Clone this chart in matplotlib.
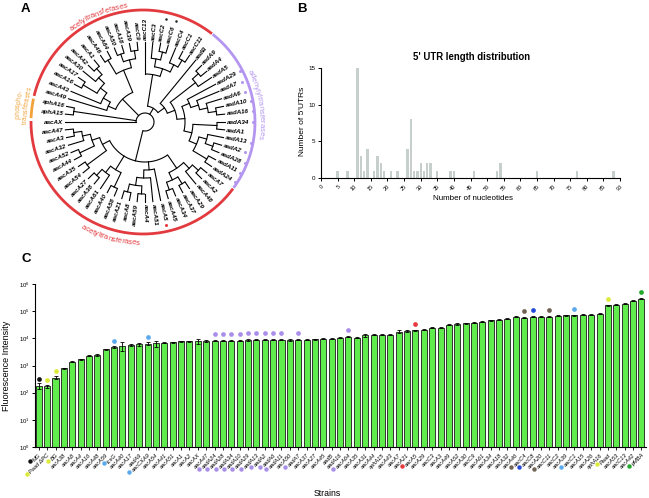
import numpy as np
import matplotlib
matplotlib.use("Agg")
import matplotlib.pyplot as plt
from matplotlib.lines import Line2D
from matplotlib.textpath import TextToPath
from matplotlib.font_manager import FontProperties

plt.rcParams['font.family'] = ['Liberation Sans', 'DejaVu Sans']

# ---------------- data ----------------
# A: tree of resistance genes (leaf order runs clockwise from aacAX at 9 o'clock)
tree = [
    "aacAX",
    ["aphA15", "aphA16"],
    [["aacA49", ["aacA43", [["aacA16", "aacA17"], ["aacA30", ["aacA42", "aacA1"]]]]],
     [["aacA46", "aacA64"], [["aacA50", "aacA18"], ["aacA39", "aacC9"]]]],
    [["aacC13", [["aacC3", ["aacC2", "aacC6"]], ["aacC4", ["aacC1", "aacC11"]]]],
     ["aadB", [[["aadA9", "aadA4"], "aadA5"],
               [["aadA29", ["aadA7", ["aadA6", ["aadA10", "aadA16"]]]],
                [["aadA34", "aadA1"], [["aadA13", ["aadA2", "aadA28"]], ["aadA11", "aadA24"]]]]]]],
    [[[["aacA7", "aacA2"], "aacA48"], [["aacA29", "aacA37"], ["aacA34", "aacA45"]]],
     ["aacA5", ["aacA51", [["aacA4", "aacA59"], ["aacA8", "aacA21"]]]],
     [["aacA58", "aacA40"], ["aacA61", ["aacA38", "aacA27"]]],
     [["aacA54", "aacA35"], [["aacA44", "aacA52"], ["aacA32", ["aacA3", "aacA47"]]]]],
]
purple_leaves = ["aadA29", "aadA7", "aadA6", "aadA10", "aadA16", "aadA34",
                 "aadA13", "aadA2", "aadA28", "aadA11", "aadA24"]
black_leaves = ["aacC2", "aacC6"]
red_leaves = ["aacA5"]

# B: 5' UTR length histogram
utr_len = [5, 8, 11, 12, 13, 14, 16, 17, 18, 19, 21, 23, 26, 27, 28, 29, 30,
           31, 32, 33, 35, 39, 40, 46, 53, 54, 65, 77, 88]
utr_count = [1, 1, 15, 3, 1, 4, 1, 3, 2, 1, 1, 1, 4, 8, 1, 1, 2,
             1, 2, 2, 1, 1, 1, 1, 1, 2, 1, 1, 1]

# C: fluorescence of each strain
strains = ["MG", "Paad ΔPC", "BG", "aacA38", "aacA8", "aacA4", "aacA16", "aacA48",
           "aacA59", "tcsG", "aacA40", "aacA17", "aadA9", "aacCXA9", "aacA54",
           "aacA41", "aacA51", "aacA1", "aacA2", "aacAX", "aacA47", "aadA24",
           "aadA28", "aadA34", "aadA10", "aadA29", "aadA13", "aadA2", "aadA6",
           "aadA11", "aacA50", "aadA7", "aacA37", "aacA27", "aacA45", "aadB",
           "aadA16", "aacA64", "aacA35", "aacA31", "aacA44", "aphA15", "aacA43",
           "aacA7", "aacA21", "aacA5", "aacA29", "aacC3", "aacA3", "aacA49",
           "aacA52", "aacA30", "aacC9", "aacA61", "aacA34", "aacA18", "aacA32",
           "aacA46", "aacC4", "aacC8", "aacA20", "aacC11", "aacC2", "aacA39",
           "aacC1", "aacA15", "aacA26", "aphA16", "Paad", "aacA53", "aacC13",
           "aacA42", "pMBA"]
fluor = [180, 170, 360, 800, 1400, 1700, 2300, 2450, 4000, 4750,
         5250, 5600, 6100, 6400, 6500, 7000, 7200, 7900, 7800, 7800,
         8000, 8200, 8100, 8300, 8300, 8800, 8800, 8800, 8800, 8800,
         8800, 8900, 8900, 9100, 9800, 9800, 10400, 11300, 10400, 13000,
         13400, 13800, 13400, 17400, 18300, 20000, 21000, 24300, 25000, 32000,
         34000, 36000, 38000, 40500, 46500, 48000, 53500, 62000, 58000, 62000,
         63500, 63500, 69000, 70000, 70000, 75000, 75000, 81000, 162000, 174000,
         190000, 240000, 283000]
err_frac = [0.25, 0.15, 0.1, 0.05, 0.05, 0.05, 0.05, 0.05, 0.05, 0.06,
            0.35, 0.06, 0.12, 0.12, 0.25, 0.05, 0.05, 0.05, 0.05, 0.2,
            0.05, 0.05, 0.05, 0.05, 0.05, 0.06, 0.05, 0.05, 0.05, 0.05,
            0.08, 0.05, 0.05, 0.05, 0.05, 0.05, 0.05, 0.05, 0.05, 0.12,
            0.05, 0.05, 0.05, 0.12, 0.1, 0.05, 0.05, 0.05, 0.05, 0.06,
            0.1, 0.05, 0.05, 0.05, 0.05, 0.05, 0.05, 0.05, 0.05, 0.05,
            0.05, 0.05, 0.05, 0.05, 0.05, 0.05, 0.05, 0.05, 0.05, 0.05,
            0.05, 0.05, 0.05]
dot_idx = [0, 1, 2, 9, 13, 21, 22, 23, 24, 25, 26, 27, 28, 29, 31, 37, 45,
           58, 59, 61, 64, 68, 72]
dot_col = ["black", "yellow", "yellow", "lblue", "lblue"] + ["purple"] * 11 + \
          ["red", "brown", "blue", "brown", "lblue", "yellow", "green"]
palette = {"black": "#111111", "yellow": "#dcea3a", "lblue": "#5aa9ec",
           "purple": "#a98ee9", "red": "#e8373f", "brown": "#6f6253",
           "blue": "#2449d8", "green": "#23a82a"}

RED = "#e23a3e"
PURPLE = "#b496f0"
ORANGE = "#f2a23a"

W, H = 649, 498
fig = plt.figure(figsize=(W / 100, H / 100), dpi=100)
ttp = TextToPath()


def px_axes(x0, y0, x1, y1):
    return fig.add_axes([x0 / W, 1 - y1 / H, (x1 - x0) / W, (y1 - y0) / H])


def text_px(s, fp):
    if not s:
        return 0.0
    w, h, d = ttp.get_text_width_height_descent(s, fp, ismath=False)
    return w * 100 / 72


def arc_text(ax, s, cx, cy, r, mid, fp, color, clockwise=True):
    cum = [text_px(s[:k], fp) for k in range(len(s) + 1)]
    total = cum[-1]
    for k, ch in enumerate(s):
        c = (cum[k] + cum[k + 1]) / 2 - total / 2
        dth = np.degrees(c / r)
        if clockwise:
            a = mid - dth
            rot = a - 90
        else:
            a = mid + dth
            rot = a + 90
        x = cx + r * np.cos(np.radians(a))
        y = cy - r * np.sin(np.radians(a))
        ax.text(x, y, ch, rotation=rot, ha='center', va='baseline',
                rotation_mode='anchor', fontproperties=fp, color=color)


# ---------------- A: circular tree ----------------
ax_a = px_axes(0, 0, 300, 250)
ax_a.set_xlim(0, 300)
ax_a.set_ylim(250, 0)
ax_a.axis('off')

TCX, TCY = 145, 122
R_TIP, STEP, R_ROOT = 80, 8, 9

leaves = []


def collect(node):
    if isinstance(node, str):
        leaves.append(node)
    else:
        for c in node:
            collect(c)


collect(tree)
n_leaves = len(leaves)
leaf_ang = {nm: 180 - i * 360 / n_leaves for i, nm in enumerate(leaves)}


def pol(r, a):
    return TCX + r * np.cos(np.radians(a)), TCY - r * np.sin(np.radians(a))


def draw_node(node, is_root=False):
    if isinstance(node, str):
        return leaf_ang[node], R_TIP, 0
    kids = [draw_node(c) for c in node]
    h = max(k[2] for k in kids) + 1
    r = R_ROOT if is_root else R_TIP - h * STEP
    a0, a1 = kids[-1][0], kids[0][0]
    aa = np.linspace(a0, a1, 60)
    xs, ys = pol(r, aa)
    ax_a.plot(xs, ys, color='black', lw=0.8, solid_capstyle='butt')
    for ka, kr, kh in kids:
        x0, y0 = pol(r, ka)
        x1, y1 = pol(kr, ka)
        ax_a.plot([x0, x1], [y0, y1], color='black', lw=0.8)
    return (a0 + a1) / 2, r, h


draw_node(tree, is_root=True)

leaf_fp = FontProperties(family='Liberation Sans', size=4.5, weight='bold', style='italic')
for nm in leaves:
    a = leaf_ang[nm]
    x, y = pol(R_TIP + 2, a)
    if np.cos(np.radians(a)) >= -1e-9:
        ax_a.text(x, y, nm, rotation=a, ha='left', va='center', rotation_mode='anchor',
                  fontproperties=leaf_fp)
    else:
        ax_a.text(x, y, nm, rotation=a + 180, ha='right', va='center',
                  rotation_mode='anchor', fontproperties=leaf_fp)
    wl = text_px(nm, leaf_fp)
    if nm in purple_leaves:
        ax_a.plot(*pol(R_TIP + 6 + wl, a), 'o', ms=2.2, color=PURPLE, mec='none')
    if nm in red_leaves:
        ax_a.plot(*pol(R_TIP + 7 + wl, a), 'o', ms=2.2, color=RED, mec='none')
    if nm in black_leaves:
        ax_a.plot(*pol(R_TIP + 7 + wl, a), 'o', ms=1.8, color='#222222', mec='none')

# coloured class arcs
ACX, ACY, AR = 143, 122, 112
for a0, a1, col in [(52, 166.5, RED), (168, 178, ORANGE), (179.5, 323.5, RED), (-36, 51.5, PURPLE)]:
    aa = np.radians(np.linspace(a0, a1, 200))
    ax_a.plot(ACX + AR * np.cos(aa), ACY - AR * np.sin(aa), color=col, lw=2.0,
              solid_capstyle='butt')

lab_fp = FontProperties(family='Liberation Sans', size=5.5)
arc_text(ax_a, "acetyltransferases", ACX, ACY, AR + 3.5, 113, lab_fp, RED, clockwise=True)
arc_text(ax_a, "acetyltransferases", ACX, ACY, AR + 11, 254, lab_fp, RED, clockwise=False)
arc_text(ax_a, "adenylyltransferases", ACX, ACY, AR + 4.5, 9, lab_fp, PURPLE, clockwise=True)
small_fp = FontProperties(family='Liberation Sans', size=4.8)
arc_text(ax_a, "phospho-", ACX, ACY, AR + 12, 172, small_fp, ORANGE, clockwise=True)
arc_text(ax_a, "transferases", ACX, ACY, AR + 4, 172, small_fp, ORANGE, clockwise=True)

# ---------------- B: UTR histogram ----------------
ax_b = px_axes(321, 68, 620, 178)
ax_b.bar(utr_len, utr_count, width=0.7, color='#c6cfcb', edgecolor='none')
ax_b.set_xlim(0, 90)
ax_b.set_ylim(0, 15)
ax_b.set_xticks(np.arange(0, 91, 5))
ax_b.set_xticklabels([str(v) for v in range(0, 91, 5)], rotation=45, ha='right',
                     rotation_mode='anchor', fontsize=4)
ax_b.set_yticks([0, 5, 10, 15])
ax_b.tick_params(axis='y', labelsize=4.5, length=2.5, width=0.7, pad=1.5)
ax_b.tick_params(axis='x', length=2.5, width=0.7, pad=1.5)
for s in ['top', 'right']:
    ax_b.spines[s].set_visible(False)
for s in ['left', 'bottom']:
    ax_b.spines[s].set_linewidth(0.8)
fig.text(472 / W, 1 - 57 / H, "5' UTR length distribution", ha='center', va='center',
         fontsize=6.9, fontweight='bold')
fig.text(473 / W, 1 - 198 / H, "Number of nucleotides", ha='center', va='center', fontsize=5.8)
fig.text(303 / W, 1 - 121 / H, "Number of 5'UTRs", ha='center', va='center',
         rotation=90, fontsize=6)

# ---------------- C: fluorescence bars ----------------
ax_c = px_axes(35, 284, 646, 447)
xpos = np.arange(len(strains))
vals = np.array(fluor, dtype=float)
ax_c.set_yscale('log')
ax_c.bar(xpos, vals, width=0.72, color='#60ec4c', edgecolor='#1a1a1a', linewidth=0.6)
ax_c.errorbar(xpos, vals, yerr=vals * np.array(err_frac), fmt='none', ecolor='black',
              elinewidth=0.6, capsize=1.2, capthick=0.6)
ax_c.set_ylim(1, 1e6)
ax_c.set_xlim(-0.45, len(strains) - 0.45)
ax_c.set_yticks([10.0 ** k for k in range(7)])
ax_c.yaxis.set_minor_locator(matplotlib.ticker.NullLocator())
ax_c.set_xticks(xpos)
ax_c.set_xticklabels(strains, rotation=45, ha='right', rotation_mode='anchor',
                     fontsize=4.1, style='italic')
ax_c.tick_params(axis='y', labelsize=4.3, length=2.5, width=0.7, pad=1.5)
ax_c.tick_params(axis='x', length=2.5, width=0.6, pad=1.5)
for s in ['top', 'right']:
    ax_c.spines[s].set_visible(False)
for s in ['left', 'bottom']:
    ax_c.spines[s].set_linewidth(0.8)
for i, c in zip(dot_idx, dot_col):
    ax_c.plot(i, vals[i] * 1.75, 'o', ms=3.4, color=palette[c], mec='none', clip_on=False)

fig.text(7 / W, 1 - 366 / H, "Fluorescence Intensity", ha='center', va='center',
         rotation=90, fontsize=6.5)
fig.text(327 / W, 1 - 493 / H, "Strains", ha='center', va='center', fontsize=6.3)

# panel letters
for lx, ly, t in [(25, 9, "A"), (302, 9, "B"), (26, 259, "C")]:
    fig.text(lx / W, 1 - ly / H, t, ha='center', va='center', fontsize=9.5, fontweight='bold')

# dots at the start of the coloured strain names
fig.canvas.draw()
renderer = fig.canvas.get_renderer()
ticklabs = ax_c.get_xticklabels()
for i, c in zip(dot_idx, dot_col):
    bb = ticklabs[i].get_window_extent(renderer)
    fig.add_artist(Line2D([(bb.x0 - 2) / W], [(bb.y0 + 1) / H], transform=fig.transFigure,
                          marker='o', ms=3.2, color=palette[c], mec='none', ls='none'))

fig.savefig("out.png", dpi=100)
